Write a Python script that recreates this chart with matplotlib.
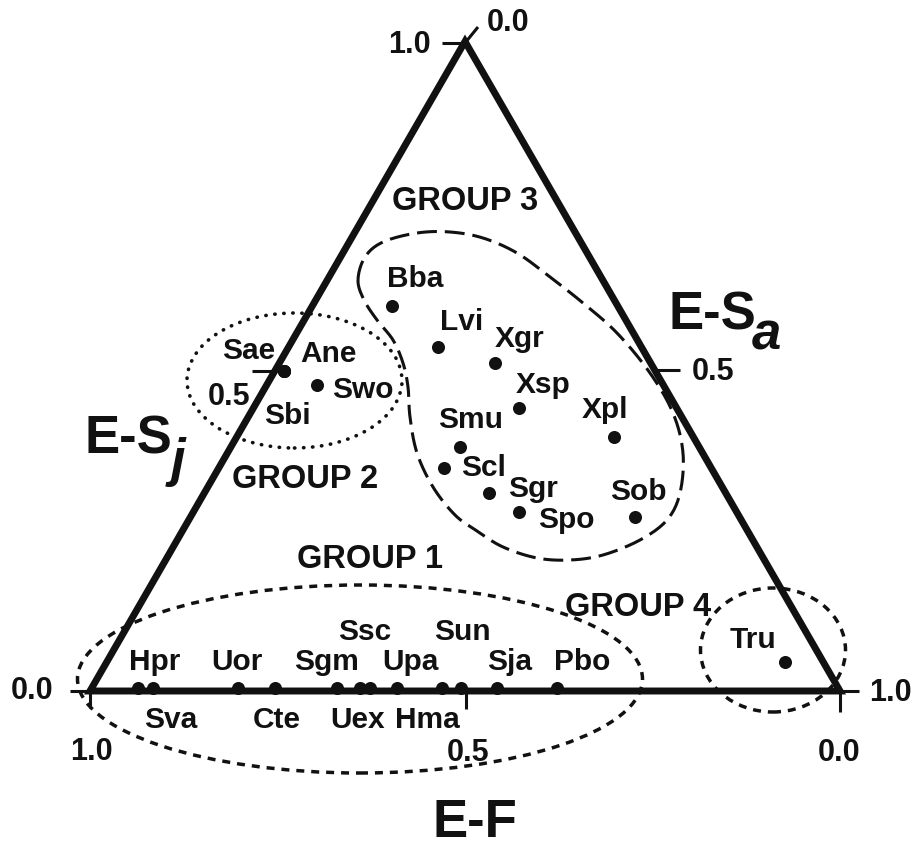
import numpy as np
import matplotlib.pyplot as plt
from matplotlib.patches import Ellipse, Polygon

plt.rcParams['font.family'] = ['Liberation Sans', 'DejaVu Sans']
plt.rcParams['font.weight'] = 'bold'

# ternary composition of each species: E-F = 1 - E-Sa - E-Sj
species = ['Bba', 'Lvi', 'Xgr', 'Xsp', 'Xpl', 'Smu', 'Scl', 'Sgr', 'Spo', 'Sob',
           'Sae', 'Ane', 'Sbi', 'Swo', 'Tru',
           'Hpr', 'Sva', 'Uor', 'Cte', 'Sgm', 'Uex', 'Ssc', 'Upa', 'Hma', 'Sun',
           'Sja', 'Pbo']
e_sa = [0.106, 0.200, 0.287, 0.355, 0.503, 0.306, 0.300, 0.380, 0.435, 0.593,
        0.013, 0.013, 0.013, 0.067, 0.904,
        0.062, 0.082, 0.195, 0.244, 0.327, 0.358, 0.371, 0.407, 0.467, 0.492,
        0.540, 0.620]
e_sj = [0.593, 0.529, 0.505, 0.435, 0.391, 0.375, 0.343, 0.305, 0.275, 0.268,
        0.492, 0.492, 0.492, 0.471, 0.045,
        0.005, 0.005, 0.005, 0.005, 0.005, 0.005, 0.005, 0.005, 0.005, 0.005,
        0.005, 0.005]

# label offsets (pixels) from each dot
offsets = {
    'Bba': (23, 27), 'Lvi': (23, 25), 'Xgr': (25, 24), 'Xsp': (24, 23),
    'Xpl': (-9, 27), 'Smu': (10, 27), 'Scl': (40, 0), 'Sgr': (44, 4),
    'Spo': (47, -8), 'Sob': (3, 25), 'Sae': (-36, 20), 'Ane': (44, 17),
    'Sbi': (3, -45), 'Swo': (46, -5), 'Tru': (-32, 22),
    'Hpr': (16, 26), 'Sva': (17, -32), 'Uor': (-1, 26), 'Cte': (2, -32),
    'Sgm': (-11, 26), 'Uex': (-3, -32), 'Ssc': (-5, 56), 'Upa': (13, 26),
    'Hma': (-15, -32), 'Sun': (2, 56), 'Sja': (13, 26), 'Pbo': (25, 26),
}

H = np.sqrt(3) / 2
S = 750.0  # pixels per unit side


def px(x, y):
    # layout helper: reference pixel position -> data coords
    return (x - 90) / S, (691 - y) / S


sa = np.array(e_sa)
sj = np.array(e_sj)
xs = sa + sj / 2
ys = sj * H

fig = plt.figure(figsize=(9.16, 8.48), dpi=100)
ax = fig.add_axes([0, 0, 1, 1])
ax.set_xlim(-90 / S, 826 / S)
ax.set_ylim(-157 / S, 691 / S)
ax.axis('off')

# triangle
tri = Polygon([[0, 0], [1, 0], [0.5, H]], closed=True, fill=False,
              lw=5, ec='#111111', joinstyle='miter', zorder=3)
ax.add_patch(tri)

# ticks
tick_kw = dict(color='#111111', lw=2.2, solid_capstyle='butt', zorder=3)
for seg in [((70, 691), (90, 691)), ((90, 691), (90, 708)),
            ((466, 691), (466, 709)),
            ((840, 691), (859, 691)), ((840, 691), (840, 712)),
            ((252, 371), (277, 371)), ((655, 370), (680, 370)),
            ((442, 43), (465, 43)), ((465, 43), (478, 27))]:
    (x0, y0), (x1, y1) = px(*seg[0]), px(*seg[1])
    ax.plot([x0, x1], [y0, y1], **tick_kw)

num_kw = dict(fontsize=22, fontweight='bold', color='#111111')
for txt, (x, y), ha in [('0.0', (53, 691), 'right'), ('1.0', (91, 752), 'center'),
                        ('0.5', (468, 753), 'center'), ('0.0', (839, 753), 'center'),
                        ('1.0', (869, 693), 'left'), ('0.5', (692, 372), 'left'),
                        ('0.5', (229, 397), 'center'), ('1.0', (431, 45), 'right'),
                        ('0.0', (487, 23), 'left')]:
    ax.text(*px(x, y), txt, ha=ha, va='center', **num_kw)

# axis titles
title_kw = dict(fontsize=38, fontweight='bold', color='#111111', va='baseline')
ax.text(*px(432, 837), 'E-F', ha='left', **title_kw)
ax.text(*px(669, 330), 'E-S', ha='left', **title_kw)
ax.text(*px(752, 350), 'a', ha='left', fontstyle='italic', **title_kw)
ax.text(*px(84, 453), 'E-S', ha='left', **title_kw)
ax.text(*px(171, 476), 'j', ha='left', fontstyle='italic', **title_kw)

# group outlines
g1 = Ellipse(px(360, 679), 565 / S, 188 / S, fill=False, ec='#111111',
             lw=2.5, ls=(0, (2.3, 2.0)), zorder=2)
g2 = Ellipse(px(294.5, 380.5), 215 / S, 135 / S, fill=False, ec='#111111',
             lw=2.6, ls=(0, (0.1, 2.4)), zorder=2)
g2.set_capstyle('round')
g4 = Ellipse(px(773, 650), 145 / S, 124 / S, fill=False, ec='#111111',
             lw=2.5, ls=(0, (2.3, 2.0)), zorder=2)
for e in (g1, g2, g4):
    ax.add_patch(e)

outline3 = [(358, 280), (365, 257), (383, 242), (417, 233), (450, 232), (483, 238),
            (517, 253), (550, 277), (583, 303), (617, 333), (650, 373), (673, 413),
            (683, 453), (680, 493), (667, 520), (640, 540), (603, 555), (570, 560),
            (537, 558), (503, 547), (477, 531), (455, 515), (433, 487), (417, 453),
            (410, 417), (408, 387), (403, 363), (393, 340), (377, 320), (364, 300)]
P = np.array([px(*p) for p in outline3])
n = len(P)
curve = []
for i in range(n):
    p0, p1, p2, p3 = P[i - 1], P[i], P[(i + 1) % n], P[(i + 2) % n]
    for t in np.linspace(0, 1, 12, endpoint=False):
        curve.append(0.5 * (2 * p1 + (-p0 + p2) * t
                            + (2 * p0 - 5 * p1 + 4 * p2 - p3) * t ** 2
                            + (-p0 + 3 * p1 - 3 * p2 + p3) * t ** 3))
curve.append(curve[0])
curve = np.array(curve)
ax.plot(curve[:, 0], curve[:, 1], color='#111111', lw=2.2,
        ls=(0, (6.5, 2.6)), zorder=2)

# group labels
grp_kw = dict(fontsize=23.5, fontweight='bold', color='#111111', ha='center', va='center')
ax.text(*px(370, 560), 'GROUP 1', **grp_kw)
ax.text(*px(305, 480), 'GROUP 2', **grp_kw)
ax.text(*px(465, 202), 'GROUP 3', **grp_kw)
ax.text(*px(638, 607), 'GROUP 4', **grp_kw)

# species points
ax.plot(xs, ys, 'o', color='#111111', ms=9.4, mec='none', zorder=4)
for name, x, y in zip(species, xs, ys):
    dx, dy = offsets[name]
    ax.annotate(name, (x, y), xytext=(dx, dy), textcoords='offset pixels',
                ha='center', va='center', fontsize=21.5, fontweight='bold',
                color='#111111', zorder=5)

fig.savefig('out.png', dpi=100)
